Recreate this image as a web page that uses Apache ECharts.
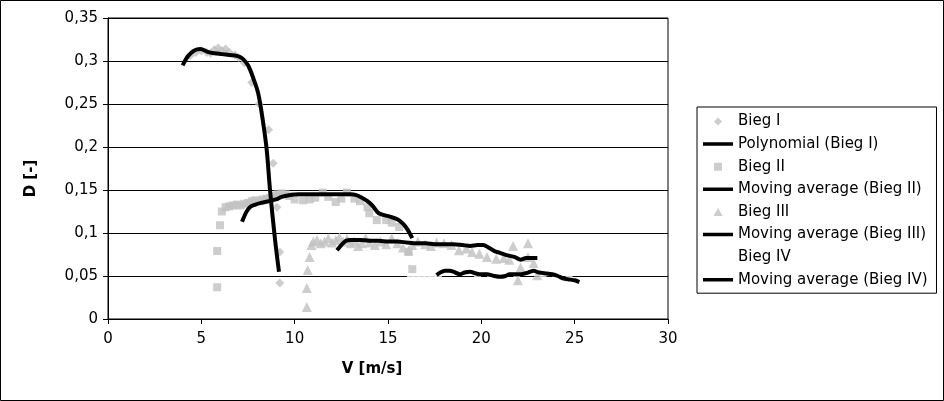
<!DOCTYPE html>
<html><head><meta charset="utf-8">
<script src="https://cdn.jsdelivr.net/npm/echarts@6/dist/echarts.min.js"></script>
<style>html,body{margin:0;padding:0;background:#fff}#c{width:944px;height:401px}</style>
</head><body><div id="c"></div><script>
// ---- data ----
const xTicks = [0, 5, 10, 15, 20, 25, 30];
const yTicks = [0, 0.05, 0.1, 0.15, 0.2, 0.25, 0.3, 0.35];
const seriesNames = ['Bieg I', 'Polynomial (Bieg I)', 'Bieg II', 'Moving average (Bieg II)',
  'Bieg III', 'Moving average (Bieg III)', 'Bieg IV', 'Moving average (Bieg IV)'];

const biegI = [[4.4,0.306],[4.7,0.31],[5.0,0.312],[5.3,0.31],[5.5,0.309],[5.7,0.313],[5.9,0.315],
  [6.1,0.312],[6.3,0.314],[6.5,0.31],[6.8,0.307],[7.0,0.304],[7.3,0.298],[7.7,0.275],[8.1,0.25],
  [8.6,0.22],[8.85,0.181],[9.05,0.13],[9.2,0.078],[9.2,0.042]];
const polyBiegI = [[4.0,0.295],[4.3,0.306],[4.6,0.312],[4.95,0.314],[5.3,0.311],[5.7,0.309],[6.1,0.308],
  [6.5,0.307],[6.9,0.306],[7.2,0.303],[7.5,0.295],[7.8,0.279],[8.05,0.262],[8.3,0.230],[8.5,0.197],
  [8.68,0.15],[8.95,0.092],[9.16,0.055]];

const biegII = [[5.85,0.037],[5.85,0.079],[6.0,0.109],[6.1,0.125],[6.3,0.13],[6.5,0.131],[6.7,0.132],
  [6.9,0.133],[7.1,0.132],[7.3,0.134],[7.5,0.135],[7.7,0.137],[7.9,0.138],[8.1,0.137],[8.3,0.139],
  [8.5,0.14],[8.7,0.141],[8.9,0.143],[9.1,0.145],[9.3,0.146],[9.5,0.145],[9.7,0.143],[10.0,0.139],
  [10.45,0.138],[10.8,0.139],[11.1,0.141],[11.5,0.147],[11.8,0.142],[12.2,0.136],[12.5,0.14],
  [12.8,0.147],[13.2,0.14],[13.5,0.137],[13.9,0.13],[14.0,0.123],[14.4,0.115],[14.9,0.115],
  [15.2,0.112],[15.6,0.107],[16.1,0.078],[16.3,0.058]];
const maBiegII = [[7.18,0.113],[7.4,0.124],[7.6,0.13],[7.9,0.133],[8.2,0.135],[8.6,0.137],[9.0,0.139],
  [9.3,0.142],[9.7,0.144],[10.2,0.145],[10.8,0.145],[11.4,0.145],[12.0,0.145],[12.6,0.145],[13.0,0.145],
  [13.3,0.144],[13.6,0.141],[13.9,0.137],[14.2,0.131],[14.5,0.123],[15.1,0.119],[15.5,0.116],
  [15.8,0.111],[16.05,0.104],[16.3,0.094]];

const biegIII = [[10.65,0.014],[10.65,0.036],[10.7,0.057],[10.8,0.072],[10.9,0.086],[11.0,0.09],
  [11.2,0.092],[11.4,0.088],[11.6,0.09],[11.8,0.094],[12.0,0.089],[12.2,0.092],[12.4,0.095],[12.6,0.09],
  [12.8,0.093],[13.0,0.088],[13.2,0.09],[13.4,0.085],[13.6,0.088],[13.8,0.094],[14.0,0.089],[14.3,0.086],
  [14.6,0.09],[14.9,0.087],[15.2,0.094],[15.5,0.088],[15.8,0.083],[16.1,0.08],[16.3,0.086],[16.6,0.09],
  [17.0,0.087],[17.3,0.085],[17.6,0.089],[18.0,0.088],[18.4,0.086],[18.8,0.08],[19.2,0.082],[19.5,0.078],
  [19.9,0.076],[20.3,0.072],[20.8,0.07],[21.2,0.071],[21.5,0.069],[21.7,0.085],[21.96,0.045],[22.1,0.06],
  [22.5,0.088],[22.5,0.072],[23.0,0.051],[22.8,0.065]];
const maBiegIII = [[12.27,0.08],[12.5,0.086],[12.75,0.091],[13.0,0.092],[13.5,0.092],[14.0,0.091],
  [14.5,0.091],[15.0,0.09],[15.5,0.09],[16.0,0.089],[16.5,0.088],[17.0,0.088],[17.5,0.087],[18.0,0.087],
  [18.5,0.087],[19.0,0.086],[19.4,0.085],[19.8,0.086],[20.1,0.086],[20.4,0.083],[20.7,0.079],[21.0,0.077],
  [21.4,0.074],[21.8,0.072],[22.1,0.069],[22.4,0.071],[22.7,0.071],[23.0,0.071]];

const biegIV = [[16.2,0.05],[16.5,0.049],[16.8,0.051],[17.1,0.05],[17.4,0.05],[17.7,0.052],[18.1,0.056],
  [18.6,0.055],[19.2,0.054],[19.8,0.052],[20.5,0.051],[21.2,0.05],[21.9,0.052],[22.6,0.055],[23.3,0.053],
  [24.0,0.05],[24.7,0.046]];
const maBiegIV = [[17.6,0.051],[17.8,0.054],[18.05,0.056],[18.3,0.056],[18.5,0.055],[18.85,0.052],
  [19.1,0.054],[19.4,0.055],[19.7,0.053],[19.9,0.052],[20.3,0.052],[20.7,0.05],[21.0,0.049],[21.3,0.05],
  [21.5,0.052],[21.8,0.052],[22.1,0.052],[22.5,0.054],[22.8,0.056],[23.1,0.054],[23.5,0.053],[23.8,0.052],
  [24.1,0.05],[24.4,0.047],[24.7,0.046],[25.0,0.045],[25.25,0.043]];

// ---- chart ----
const FONT = 'DejaVu Sans';
const GRAY = '#c0c0c0';
// legend icons drawn in a 30x9 box (tiny corner specks fix the box so shapes keep their aspect)
const BOX = 'M0 0h0.01v0.01h-0.01Z M30 9h-0.01v-0.01h0.01Z ';
const lineIcon = 'path://' + BOX + 'M0 2.75H30V6.25H0Z';
const diamondIcon = 'path://' + BOX + 'M15 0.5L19 4.5L15 8.5L11 4.5Z';
const squareIcon = 'path://' + BOX + 'M11 0.5H19V8.5H11Z';
const triangleIcon = 'path://' + BOX + 'M15 0.5L19.5 8.5H10.5Z';
const fmt = v => String(+(+v).toFixed(2)).replace('.', ',');

function lineSeries(name, data, smooth) {
  return { name, type: 'line', data, symbol: 'none', smooth: smooth, z: 5,
    lineStyle: { color: '#000', width: 4 }, itemStyle: { color: '#000' }, silent: true };
}
function scatterSeries(name, data, symbol, size, color) {
  return { name, type: 'scatter', data, symbol, symbolSize: size, z: 3,
    itemStyle: { color: color }, silent: true };
}

const chart = echarts.init(document.getElementById('c'), null, { renderer: 'canvas' });
chart.setOption({
  animation: false,
  backgroundColor: '#fff',
  textStyle: { fontFamily: FONT },
  graphic: [{ type: 'rect', shape: { x: 0.5, y: 0.5, width: 943, height: 400 },
    style: { fill: 'none', stroke: '#000', lineWidth: 1 }, silent: true, z: 100 }],
  grid: { left: 108, right: 276, top: 18, bottom: 82, show: true, borderColor: '#000', borderWidth: 1,
    backgroundColor: 'transparent' },
  legend: {
    orient: 'vertical', left: 697, top: 107,
    padding: [6, 9, 5, 6], itemGap: 5.6, itemWidth: 30, itemHeight: 9,
    borderColor: '#000', borderWidth: 1, selectedMode: false, symbolKeepAspect: true,
    textStyle: { fontFamily: FONT, fontSize: 15, color: '#000', lineHeight: 17 },
    data: [
      { name: seriesNames[0], icon: diamondIcon },
      { name: seriesNames[1], icon: lineIcon },
      { name: seriesNames[2], icon: squareIcon },
      { name: seriesNames[3], icon: lineIcon },
      { name: seriesNames[4], icon: triangleIcon },
      { name: seriesNames[5], icon: lineIcon },
      { name: seriesNames[6], icon: squareIcon },
      { name: seriesNames[7], icon: lineIcon }
    ]
  },
  xAxis: {
    type: 'value', min: xTicks[0], max: xTicks[xTicks.length - 1], interval: xTicks[1] - xTicks[0],
    name: 'V [m/s]', nameLocation: 'middle', nameGap: 43,
    nameTextStyle: { fontFamily: FONT, fontSize: 15, fontWeight: 'bold', color: '#000', padding: [0, 32, 0, 0] },
    axisLine: { show: true, lineStyle: { color: '#000', width: 1 } },
    axisTick: { show: true, length: 5, lineStyle: { color: '#000' } },
    axisLabel: { fontFamily: FONT, fontSize: 15, color: '#000', margin: 13, formatter: fmt },
    splitLine: { show: false }
  },
  yAxis: {
    type: 'value', min: yTicks[0], max: yTicks[yTicks.length - 1], interval: 0.05,
    name: 'D [-]', nameLocation: 'middle', nameGap: 69, nameRotate: 90,
    nameTextStyle: { fontFamily: FONT, fontSize: 15, fontWeight: 'bold', color: '#000', padding: [0, 20, 0, 0] },
    axisLine: { show: true, lineStyle: { color: '#000', width: 1 } },
    axisTick: { show: true, length: 5, lineStyle: { color: '#000' } },
    axisLabel: { fontFamily: FONT, fontSize: 15, color: '#000', margin: 10, formatter: fmt },
    splitLine: { show: true, lineStyle: { color: '#000', width: 1 } }
  },
  series: [
    scatterSeries(seriesNames[6], biegIV, 'rect', 7, '#fff'),
    scatterSeries(seriesNames[0], biegI, 'diamond', 9, GRAY),
    scatterSeries(seriesNames[2], biegII, 'rect', 8, GRAY),
    scatterSeries(seriesNames[4], biegIII, 'triangle', 10, GRAY),
    lineSeries(seriesNames[1], polyBiegI, 0.35),
    lineSeries(seriesNames[3], maBiegII, 0.3),
    lineSeries(seriesNames[5], maBiegIII, 0.3),
    lineSeries(seriesNames[7], maBiegIV, 0.2)
  ]
});
</script></body></html>
